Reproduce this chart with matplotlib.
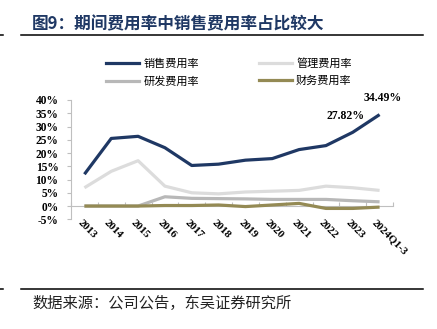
import matplotlib
matplotlib.use("Agg")
import matplotlib.pyplot as plt
from matplotlib.lines import Line2D
from matplotlib.transforms import ScaledTranslation

# Period expense ratios (%)
years = ["2013", "2014", "2015", "2016", "2017", "2018", "2019",
         "2020", "2021", "2022", "2023", "2024Q1-3"]
selling = [12.0, 25.5, 26.3, 22.0, 15.3, 15.8, 17.3, 17.9, 21.3, 22.8, 27.82, 34.49]
admin = [6.9, 13.1, 17.1, 7.5, 5.0, 4.6, 5.3, 5.6, 5.9, 7.5, 6.9, 5.9]
rnd = [0.0, 0.0, 0.0, 3.5, 2.9, 2.8, 2.7, 2.5, 2.5, 2.5, 2.0, 1.6]
finance = [0.0, 0.0, 0.0, 0.2, 0.2, 0.4, -0.2, 0.4, 1.0, -0.9, -0.9, -0.4]
series_names = ["销售费用率", "管理费用率", "研发费用率", "财务费用率"]
yticks = [-5, 0, 5, 10, 15, 20, 25, 30, 35, 40]

c_sell = "#1f3864"
c_admin = "#dcdcdc"
c_rnd = "#b8b8b8"
c_fin = "#948a54"
c_axis = "#bfbfbf"

cjk = ["Noto Sans CJK SC", "DejaVu Sans"]
serif = ["Liberation Serif", "DejaVu Serif"]

fig = plt.figure(figsize=(4.37, 3.29), dpi=100)
W, H = 437, 329

ax = fig.add_axes([71 / W, 1 - 219.3 / H, (393 - 71) / W, (219.3 - 100) / H])
x = list(range(len(years)))
lw = 2.3
ax.plot(x, admin, color=c_admin, lw=lw, solid_capstyle="butt", zorder=2)
ax.plot(x, rnd, color=c_rnd, lw=lw, solid_capstyle="butt", zorder=3)
ax.plot(x, finance, color=c_fin, lw=lw, solid_capstyle="butt", zorder=4)
ax.plot(x, selling, color=c_sell, lw=lw, solid_capstyle="butt", zorder=5)

ax.set_xlim(-0.5, len(years) - 0.5)
ax.set_ylim(-5, 40)

for s in ["top", "right"]:
    ax.spines[s].set_visible(False)
ax.spines["left"].set_color(c_axis)
ax.spines["left"].set_linewidth(0.8)
ax.spines["bottom"].set_position(("data", 0))
ax.spines["bottom"].set_color(c_axis)
ax.spines["bottom"].set_linewidth(0.8)

ax.set_yticks(yticks)
ax.set_yticklabels([f"{v}%" for v in yticks], fontfamily=serif,
                   fontweight="bold", fontsize=8.3)
ax.tick_params(axis="y", direction="out", length=3, color=c_axis,
               width=0.8, pad=6)

ax.set_xticks(x)
ax.set_xticks([i + 0.5 for i in x[:-1]] + [-0.5, len(years) - 0.5], minor=True)
ax.tick_params(axis="x", which="major", length=0, pad=11)
ax.tick_params(axis="x", which="minor", direction="in", length=3,
               color=c_axis, width=0.8)
ax.set_xticklabels(years, rotation=-45, ha="left", va="center",
                   rotation_mode="anchor", fontfamily=serif,
                   fontweight="bold", fontsize=8)
for lab in ax.get_xticklabels():
    lab.set_transform(lab.get_transform() +
                      ScaledTranslation(-4 / 72, 0, fig.dpi_scale_trans))

# Value labels on the last two points
ax.annotate(f"{selling[-1]:.2f}%", (x[-1], selling[-1]), xytext=(2, 12),
            textcoords="offset points", ha="center", va="center",
            fontfamily=serif, fontweight="bold", fontsize=8.5)
ax.annotate(f"{selling[-2]:.2f}%", (x[-2], selling[-2]), xytext=(-5, 12),
            textcoords="offset points", ha="center", va="center",
            fontfamily=serif, fontweight="bold", fontsize=8.5)

# Legend
handles = [
    Line2D([], [], color=c_sell, lw=2.3),
    Line2D([], [], color=c_rnd, lw=2.3),
    Line2D([], [], color=c_admin, lw=2.3),
    Line2D([], [], color=c_fin, lw=2.3),
]
labels = [series_names[0], series_names[2], series_names[1], series_names[3]]
fig.legend(handles, labels, ncol=2, loc="center left",
           bbox_to_anchor=(96 / W, 1 - 72.5 / H), frameon=False,
           prop={"family": cjk, "size": 8}, handlelength=3.0,
           handletextpad=0.35, columnspacing=5.4, labelspacing=0.6)

# Title and source
fig.text(32 / W, 1 - 24 / H, "图9：期间费用率中销售费用率占比较大",
         fontfamily=cjk, fontsize=12, fontweight="bold", color="#1f3864",
         ha="left", va="center")
fig.text(32 / W, 1 - 303 / H, "数据来源：公司公告，东吴证券研究所",
         fontfamily=cjk, fontsize=11, color="#222222", ha="left", va="center")

for yy in (35, 289):
    fig.add_artist(Line2D([21 / W, 423 / W], [1 - yy / H, 1 - yy / H],
                          color="black", lw=1.1))
    fig.add_artist(Line2D([0, 3 / W], [1 - yy / H, 1 - yy / H],
                          color="black", lw=1.1))

fig.savefig("out.png", dpi=100)
